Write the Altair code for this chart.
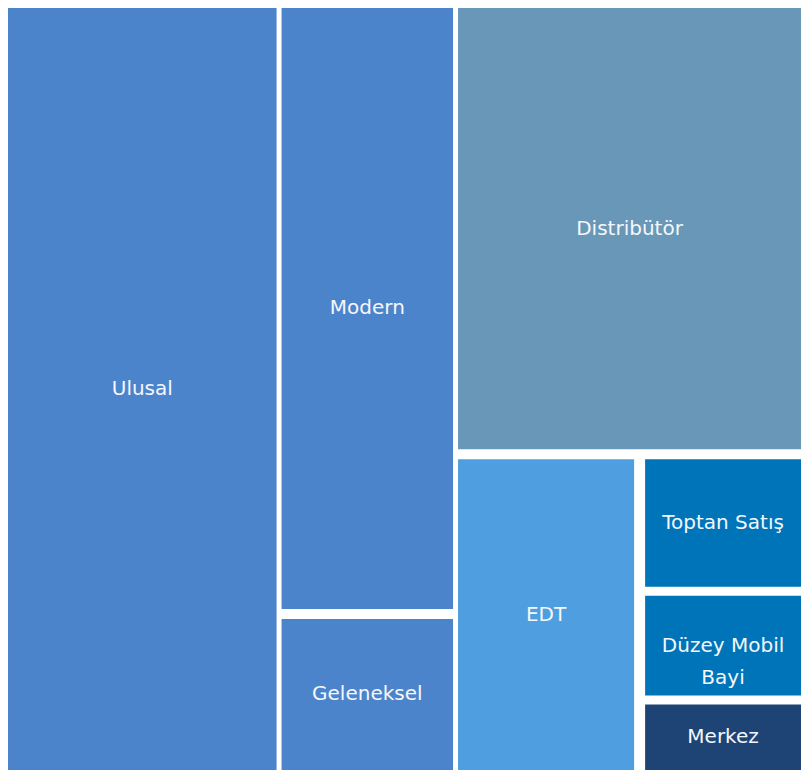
import altair as alt
import pandas as pd

# ---- data -------------------------------------------------------------
# hierarchy nodes in drawing order: (name, parent); leaves carry a value
node_names = ["Ulusal", "g1", "Modern", "Geleneksel", "g2", "Distribütör",
              "g3", "EDT", "g4", "Toptan Satış", "Düzey Mobil Bayi", "Merkez"]
node_parents = ["root", "root", "g1", "g1", "root", "g2",
                "g2", "g3", "g3", "g4", "g4", "g4"]
leaf_names = ["Ulusal", "Modern", "Geleneksel", "Distribütör", "EDT",
              "Toptan Satış", "Düzey Mobil Bayi", "Merkez"]
leaf_values = [34.3, 17.5, 4.4, 25.7, 9.6, 3.7, 2.9, 1.9]

# ---- style ------------------------------------------------------------
palette = ["#4C84CC", "#4C84CC", "#4C84CC", "#6897B8", "#4F9FE0",
           "#0074B8", "#0074B8", "#1E4476"]
W, H = 793, 762
gaps = [5, 10, 11, 9]          # white gap between siblings, per depth
FONT_SIZE = 20

# ---- slice-and-dice layout computed from the values -------------------
value_of = dict(zip(leaf_names, leaf_values))
children = {}
for n, p in zip(node_names, node_parents):
    children.setdefault(p, []).append(n)


def total(n):
    if n in value_of:
        return value_of[n]
    return sum(total(c) for c in children[n])


rects = {}


def layout(node, x0, y0, x1, y1, depth):
    if node in value_of:
        rects[node] = (x0, y0, x1, y1)
        return
    kids = children[node]
    g = gaps[depth]
    s = sum(total(k) for k in kids)
    horizontal = depth % 2 == 0
    length = (x1 - x0) if horizontal else (y1 - y0)
    avail = length - g * (len(kids) - 1)
    pos = x0 if horizontal else y0
    for k in kids:
        d = avail * total(k) / s
        if horizontal:
            layout(k, pos, y0, pos + d, y1, depth + 1)
        else:
            layout(k, x0, pos, x1, pos + d, depth + 1)
        pos += d + g


layout("root", 0, 0, W, H, 0)


def wrap(name, width):
    # break label if it would not fit in the cell
    est = lambda s: len(s) * 0.57 * FONT_SIZE
    if est(name) <= width - 10 or " " not in name:
        return name
    words = name.split(" ")
    lines, cur = [], words[0]
    for w in words[1:]:
        if est(cur + " " + w) <= width - 10:
            cur += " " + w
        else:
            lines.append(cur)
            cur = w
    lines.append(cur)
    return "\n".join(lines)


rows = []
for n in leaf_names:
    x0, y0, x1, y1 = rects[n]
    rows.append({"name": n, "value": value_of[n], "x0": x0, "x1": x1,
                 "y0": y0, "y1": y1, "cx": (x0 + x1) / 2, "cy": (y0 + y1) / 2,
                 "label": wrap(n, x1 - x0)})
df = pd.DataFrame(rows)

xs = alt.Scale(domain=[0, W], nice=False, zero=False)
ys = alt.Scale(domain=[0, H], nice=False, zero=False, reverse=True)

base = alt.Chart(df)
cells = base.mark_rect().encode(
    x=alt.X("x0:Q", scale=xs, axis=None),
    x2="x1:Q",
    y=alt.Y("y0:Q", scale=ys, axis=None),
    y2="y1:Q",
    color=alt.Color("name:N", scale=alt.Scale(domain=leaf_names, range=palette),
                    legend=None),
    tooltip=["name:N", "value:Q"],
)
labels = base.mark_text(
    font="DejaVu Sans", fontSize=FONT_SIZE, color="#F4F7FB", lineBreak="\n",
    lineHeight=32, align="center", baseline="middle",
).encode(
    x=alt.X("cx:Q", scale=xs, axis=None),
    y=alt.Y("cy:Q", scale=ys, axis=None),
    text="label:N",
)

chart = (cells + labels).properties(
    width=W, height=H, padding=0, autosize=alt.AutoSizeParams(type="none")
).configure_view(stroke=None)

chart.save("out.html", embed_options={"renderer": "svg", "actions": False})
